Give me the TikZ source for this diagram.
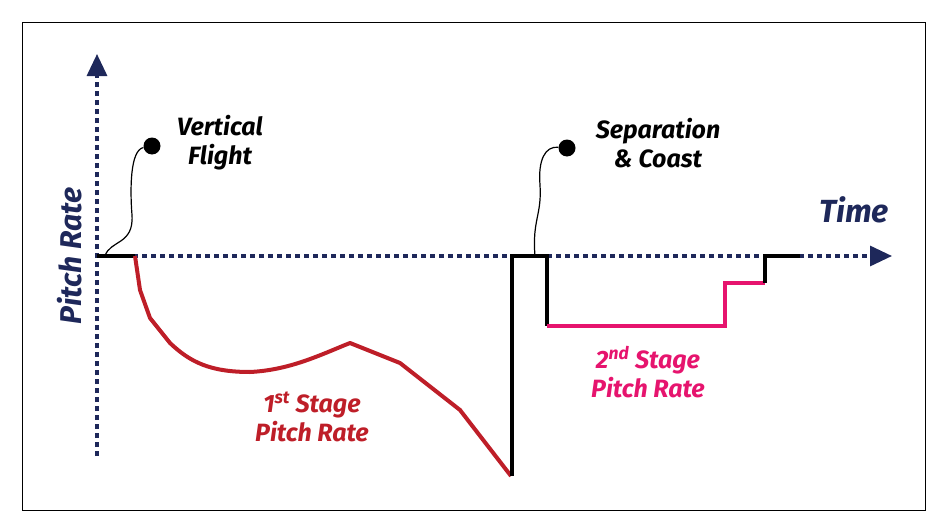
\documentclass[tikz,border=0pt]{standalone}
\usepackage{fontspec}
\setmainfont{Fira Sans}
\usetikzlibrary{arrows.meta}
\definecolor{navy}{RGB}{30,40,90}
\definecolor{redc}{RGB}{190,30,40}
\definecolor{pinkc}{RGB}{230,20,110}
\tikzset{
 axis/.style={navy,dash pattern=on 5pt off 4pt,line width=3.2pt,-{Triangle[length=22pt,width=20pt]}},
 blk/.style={black,line width=4pt},
 lbl/.style={font=\fontsize{25}{29}\selectfont\bfseries\itshape,align=center},
 lead/.style={black,line width=1.2pt},
 dotc/.style={circle,fill=black,inner sep=0pt,minimum size=17pt}
}
\begin{document}
\begin{tikzpicture}[x=1pt,y=-1pt]
\useasboundingbox (0,0) rectangle (946,514);
\draw[line width=1pt] (22,22) rectangle (925,510);
\coordinate (o) at (97,256);
\coordinate (yb) at (97,456);
\coordinate (yt) at (97,54);
\coordinate (xe) at (892,256);
\draw[axis] (yb) -- (yt);
\draw[axis] (o) -- (xe);
\draw[blk] (o) -- (135,256);
\draw[redc,line width=4pt,line join=round] (135,256) -- (140,290) -- (150,318) -- (170,343) .. controls (190,362) and (210,372) .. (250,372) .. controls (290,370) and (320,355) .. (350,343) -- (400,363) -- (460,410) -- (511,476);
\draw[blk,line join=miter] (512,476) -- (512,256) -- (547,256) -- (547,326);
\draw[pinkc,line width=4pt] (547,326) -- (725,326) -- (725,283) -- (765,283);
\draw[blk] (765,283) -- (765,256) -- (800,256);
\node[dotc] (d1) at (152,146) {};
\node[dotc] (d2) at (567,148) {};
\coordinate (e1) at (105,256);
\coordinate (e2) at (535,256);
\draw[lead] (d1) .. controls (130,150) and (130,190) .. (132,215) .. controls (134,245) and (110,240) .. (e1);
\draw[lead] (d2) .. controls (545,146) and (538,160) .. (540,185) .. controls (542,215) and (532,220) .. (e2);
\node[lbl] (vf) at (220,143) {Vertical\\Flight};
\node[lbl] (sc) at (658,143) {Separation\\\& Coast};
\node[lbl,navy,font=\fontsize{32}{36}\selectfont\bfseries\itshape] (t) at (854,210) {Time};
\node[lbl,navy,rotate=90,font=\fontsize{30}{34}\selectfont\bfseries\itshape] (pr) at (70,256) {Pitch Rate};
\node[lbl,redc] (s1) at (312,417) {1\textsuperscript{st} Stage\\Pitch Rate};
\node[lbl,pinkc] (s2) at (648,372) {2\textsuperscript{nd} Stage\\Pitch Rate};
\end{tikzpicture}
\end{document}
